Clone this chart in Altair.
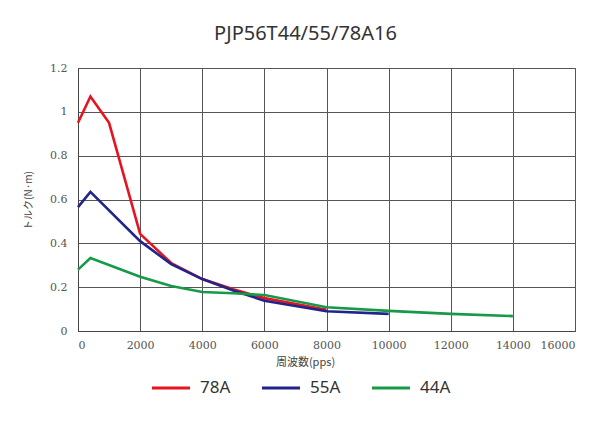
import altair as alt
import pandas as pd

series_names = ["78A", "55A", "44A"]
series_colors = ["#e5141f", "#23238a", "#169a48"]

x_78a = [0, 400, 1000, 2000, 3000, 4000, 5000, 6000, 8000]
y_78a = [0.95, 1.07, 0.95, 0.443, 0.31, 0.237, 0.19, 0.15, 0.097]

x_55a = [0, 400, 2000, 3000, 4000, 5000, 6000, 8000, 10000]
y_55a = [0.565, 0.635, 0.41, 0.305, 0.237, 0.185, 0.138, 0.09, 0.078]

x_44a = [0, 400, 2000, 3000, 4000, 5000, 6000, 8000, 10000, 12000, 14000]
y_44a = [0.28, 0.333, 0.248, 0.205, 0.178, 0.172, 0.164, 0.108, 0.092, 0.078, 0.068]

x_ticks = [0, 2000, 4000, 6000, 8000, 10000, 12000, 14000, 16000]
y_ticks = [0, 0.2, 0.4, 0.6, 0.8, 1.0, 1.2]

rows = []
for name, xs, ys in [("78A", x_78a, y_78a), ("55A", x_55a, y_55a), ("44A", x_44a, y_44a)]:
    for i, (xv, yv) in enumerate(zip(xs, ys)):
        rows.append({"series": name, "freq": xv, "torque": yv, "order": i})
df = pd.DataFrame(rows)

serif = "DejaVu Serif, Liberation Serif, serif"

chart = alt.Chart(df).mark_line(strokeWidth=2.6).encode(
    x=alt.X("freq:Q",
            scale=alt.Scale(domain=[0, 16000], nice=False),
            axis=alt.Axis(values=x_ticks, title="周波数(pps)", format="d",
                          titleX=227, titleY=25, titleBaseline="top",
                          titleFont="Noto Sans CJK JP", titleFontSize=11,
                          titleFontWeight="normal", titleColor="#444",
                          labelFont=serif, labelFontSize=11, labelColor="#555",
                          labelPadding=8, ticks=False, domain=True,
                          domainColor="#444", gridColor="#555", gridOpacity=1)),
    y=alt.Y("torque:Q",
            scale=alt.Scale(domain=[0, 1.2], nice=False),
            axis=alt.Axis(values=y_ticks, title="トルク(N·m)", format=".1~f",
                          titleX=-45, titleY=132, titleAngle=-90, titleBaseline="bottom",
                          titleFont="Noto Sans CJK JP", titleFontSize=10,
                          titleFontWeight="normal", titleColor="#444",
                          labelFont=serif, labelFontSize=11, labelColor="#555",
                          labelPadding=11, ticks=False, domain=True,
                          domainColor="#444", gridColor="#555", gridOpacity=1)),
    color=alt.Color("series:N",
                    scale=alt.Scale(domain=series_names, range=series_colors),
                    legend=alt.Legend(title=None, orient="none", direction="horizontal",
                                      legendX=72, legendY=299,
                                      symbolType="stroke", symbolSize=1450,
                                      symbolStrokeWidth=3,
                                      labelFont="Noto Sans", labelFontSize=17,
                                      labelColor="#333", columnPadding=24,
                                      labelOffset=8)),
    order="order:Q",
).properties(
    width=497,
    height=263,
    autosize=alt.AutoSizeParams(type="none"),
    padding={"left": 70, "top": 60, "right": 28, "bottom": 83},
    title=alt.TitleParams("PJP56T44/55/78A16", font="Noto Sans", fontSize=20,
                          fontWeight="normal", color="#333", anchor="middle",
                          dx=-21, offset=18),
).configure_view(stroke="#555", strokeWidth=1)

chart.save("out.html", embed_options={"renderer": "svg", "actions": False})
